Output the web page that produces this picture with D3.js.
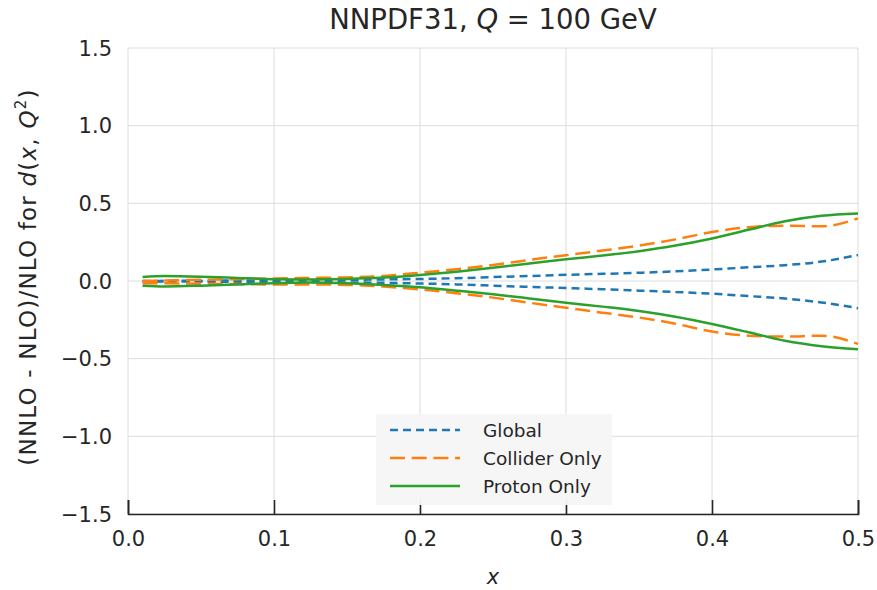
<!DOCTYPE html>
<html><head><meta charset="utf-8">
<script src="https://cdn.jsdelivr.net/npm/d3@7"></script>
<style>
body{margin:0;background:#fff;}
text{font-family:"DejaVu Sans", sans-serif;fill:#262626;}
</style></head>
<body><svg id="c" width="877" height="590"></svg>
<script>
const xs = [0.01,0.025,0.05,0.075,0.1,0.125,0.15,0.175,0.2,0.225,0.25,0.275,0.3,0.325,0.35,0.375,0.4,0.425,0.45,0.475,0.5];
const globalUp   = [0.0,0.001,0.002,0.003,0.004,0.005,0.007,0.010,0.013,0.018,0.025,0.032,0.040,0.046,0.053,0.062,0.074,0.088,0.102,0.125,0.168];
const globalLo   = [-0.004,-0.004,-0.004,-0.005,-0.006,-0.007,-0.009,-0.012,-0.016,-0.022,-0.030,-0.038,-0.045,-0.053,-0.062,-0.071,-0.082,-0.097,-0.113,-0.138,-0.175];
const colliderUp = [0.0,0.003,0.008,0.012,0.016,0.020,0.023,0.033,0.053,0.076,0.103,0.136,0.166,0.196,0.228,0.268,0.315,0.346,0.356,0.352,0.403];
const colliderLo = [-0.015,-0.015,-0.018,-0.020,-0.022,-0.022,-0.025,-0.036,-0.054,-0.079,-0.107,-0.140,-0.172,-0.204,-0.235,-0.275,-0.325,-0.352,-0.358,-0.352,-0.405];
const protonUp   = [0.025,0.032,0.028,0.020,0.012,0.010,0.013,0.022,0.039,0.060,0.085,0.112,0.140,0.164,0.192,0.228,0.274,0.330,0.385,0.420,0.435];
const protonLo   = [-0.030,-0.035,-0.030,-0.022,-0.014,-0.010,-0.015,-0.025,-0.041,-0.062,-0.085,-0.112,-0.140,-0.165,-0.193,-0.230,-0.277,-0.330,-0.385,-0.420,-0.440];
const xTicks = [0.0,0.1,0.2,0.3,0.4,0.5];
const yTicks = [-1.5,-1.0,-0.5,0.0,0.5,1.0,1.5];
const seriesNames = ["Global","Collider Only","Proton Only"];
const colors = ["#1f77b4","#ff7f0e","#2ca02c"];
const dashes = ["8,5","15,6.7",null];

const svg = d3.select("#c");
const L=128,R=858,T=48,B=514;
const x = d3.scaleLinear().domain([0,0.5]).range([L,R]);
const y = d3.scaleLinear().domain([-1.5,1.5]).range([B,T]);

// grid
svg.append("g").selectAll("line").data(xTicks).join("line")
  .attr("x1",d=>x(d)).attr("x2",d=>x(d)).attr("y1",T).attr("y2",B)
  .attr("stroke","#dcdcdc").attr("stroke-width",1);
svg.append("g").selectAll("line").data(yTicks).join("line")
  .attr("x1",L).attr("x2",R).attr("y1",d=>y(d)).attr("y2",d=>y(d))
  .attr("stroke","#dcdcdc").attr("stroke-width",1);

const fmt = d=> (d<0?"\u2212":"")+Math.abs(d).toFixed(1);
// y tick labels
svg.append("g").selectAll("text").data(yTicks).join("text")
  .attr("x",L-16).attr("y",d=>y(d)).attr("dy","0.36em").attr("text-anchor","end")
  .attr("font-size",21).text(fmt);

// x axis
const xAxis = d3.axisBottom(x).tickValues(xTicks).tickSize(-14).tickPadding(17).tickFormat(d=>d.toFixed(1));
const gx = svg.append("g").attr("transform",`translate(0,${B})`).call(xAxis);
gx.select(".domain").attr("stroke","#262626").attr("stroke-width",1.6);
gx.selectAll(".tick line").attr("stroke","#262626").attr("stroke-width",1.6);
gx.selectAll(".tick text").attr("font-size",21).attr("font-family","'DejaVu Sans', sans-serif").attr("fill","#262626");

// lines
const line = d3.line().x((d,i)=>x(xs[i])).y(d=>y(d)).curve(d3.curveMonotoneX);
const bands = [[globalUp,globalLo],[colliderUp,colliderLo],[protonUp,protonLo]];
bands.forEach((b,k)=>{
  b.forEach(arr=>{
    svg.append("path").attr("d",line(arr)).attr("fill","none")
      .attr("stroke",colors[k]).attr("stroke-width",2.5)
      .attr("stroke-dasharray",dashes[k]);
  });
});

// legend
const lg = svg.append("g");
lg.append("rect").attr("x",376).attr("y",414).attr("width",236).attr("height",91).attr("fill","#f5f5f5").attr("opacity",0.95);
seriesNames.forEach((n,i)=>{
  const yy = 430 + i*28;
  lg.append("line").attr("x1",390).attr("x2",460).attr("y1",yy).attr("y2",yy)
    .attr("stroke",colors[i]).attr("stroke-width",2.5).attr("stroke-dasharray",dashes[i]);
  lg.append("text").attr("x",483).attr("y",yy).attr("dy","0.36em").attr("font-size",18.5).text(n);
});

// title
const t = svg.append("text").attr("x",(L+R)/2).attr("y",29).attr("text-anchor","middle").attr("font-size",27.5);
t.append("tspan").text("NNPDF31, ");
t.append("tspan").attr("font-style","italic").text("Q");
t.append("tspan").text(" = 100 GeV");

// x label
svg.append("text").attr("x",(L+R)/2).attr("y",584).attr("text-anchor","middle").attr("font-size",21).attr("font-style","italic").text("x");

// y label
const yl = svg.append("text").attr("transform",`translate(36,277) rotate(-90)`).attr("text-anchor","middle").attr("font-size",23).attr("letter-spacing",1.2);
yl.append("tspan").text("(NNLO - NLO)/NLO for ");
yl.append("tspan").attr("font-style","italic").text("d");
yl.append("tspan").text("(");
yl.append("tspan").attr("font-style","italic").text("x");
yl.append("tspan").text(", ");
yl.append("tspan").attr("font-style","italic").text("Q");
yl.append("tspan").attr("font-size",15).attr("dy",-10).text("2");
yl.append("tspan").attr("dy",10).text(")");
</script></body></html>
